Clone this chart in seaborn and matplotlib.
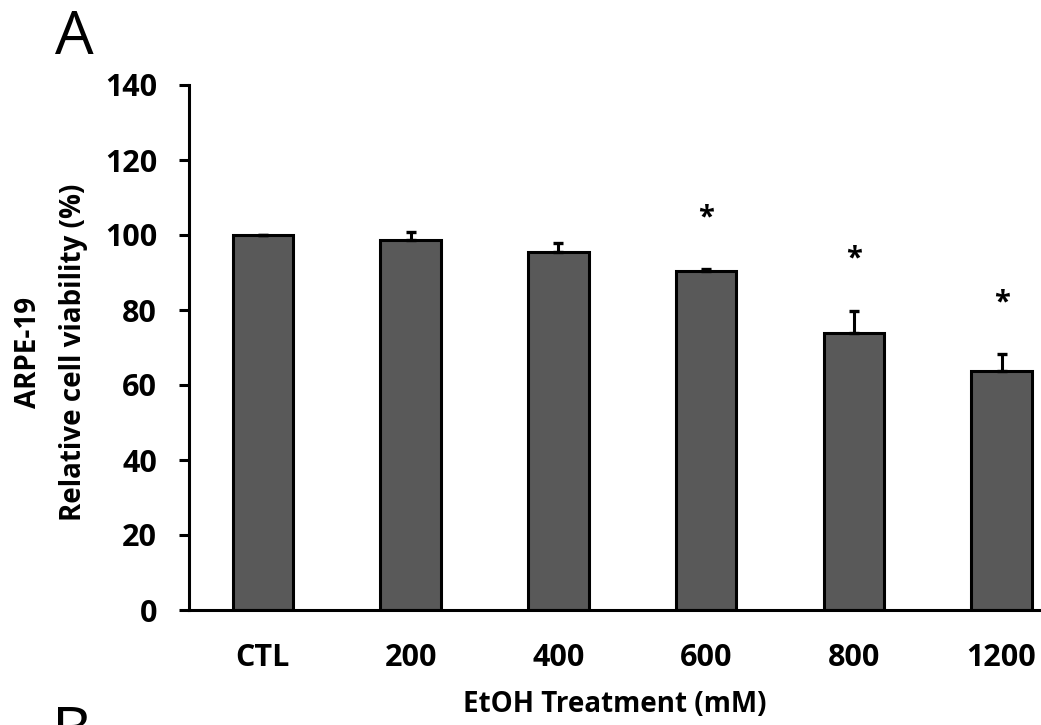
import matplotlib
matplotlib.use("Agg")
import matplotlib.pyplot as plt
import seaborn as sns
import pandas as pd

# EtOH dose series, ARPE-19 viability (mean and upper SD)
categories = ["CTL", "200", "400", "600", "800", "1200"]
viability = [100.0, 98.7, 95.5, 90.4, 74.0, 63.7]
sd_upper = [0.0, 2.1, 2.4, 0.4, 5.8, 4.6]
significance = ["", "", "", "*", "*", "*"]
y_ticks = [0, 20, 40, 60, 80, 100, 120, 140]

sns.set_theme(style="white")
plt.rcParams["font.family"] = ["Open Sans", "DejaVu Sans"]

df = pd.DataFrame({"dose": categories, "viability": viability})

fig = plt.figure(figsize=(10.41, 7.25), dpi=100)
ax = fig.add_axes([189 / 1041, 1 - 610 / 725, (1040 - 189) / 1041, (610 - 85) / 725])

sns.barplot(data=df, x="dose", y="viability", order=categories,
            color="#595959", saturation=1, width=0.41,
            edgecolor="black", linewidth=2.2, errorbar=None, ax=ax)

xs = list(range(len(categories)))
ax.errorbar(xs, viability, yerr=[[0] * len(sd_upper), sd_upper], fmt="none",
            ecolor="black", elinewidth=2.2, capsize=3.3, capthick=2.4, zorder=3)

for x, v, e, s in zip(xs, viability, sd_upper, significance):
    if s:
        ax.annotate(s, (x, v + e), xytext=(0, 37), textcoords="offset points",
                    ha="center", va="center", fontsize=21, fontweight="bold",
                    color="black")

ax.set_ylim(0, 140)
ax.set_xlim(-0.5, 5.26)
ax.set_yticks(y_ticks)
ax.set_yticklabels([str(t) for t in y_ticks])

for side in ("top", "right"):
    ax.spines[side].set_visible(False)
for side in ("left", "bottom"):
    ax.spines[side].set_linewidth(2.2)
    ax.spines[side].set_color("black")

ax.tick_params(axis="y", which="major", direction="out", length=7, width=2.2,
               pad=16, labelsize=22, colors="black", left=True)
ax.tick_params(axis="x", which="major", length=0, pad=24, labelsize=22,
               colors="black")
for lab in ax.get_xticklabels() + ax.get_yticklabels():
    lab.set_fontweight("bold")

ax.set_xlabel("EtOH Treatment (mM)", fontsize=20, fontweight="bold",
              color="black", labelpad=12)
ax.set_ylabel("")

fig.text(51 / 1041, 1 - 352 / 725, "ARPE-19\nRelative cell viability (%)",
         rotation=90, ha="center", va="center", multialignment="center",
         fontsize=20, fontweight="bold", color="black", linespacing=1.75)

fig.text(55 / 1041, 1 - 8 / 725, "A", fontsize=44, ha="left", va="top",
         color="black")
fig.text(52 / 1041, 1 - 704 / 725, "B", fontsize=44, ha="left", va="top",
         color="black")

fig.savefig("out.png", dpi=100, facecolor="white")
